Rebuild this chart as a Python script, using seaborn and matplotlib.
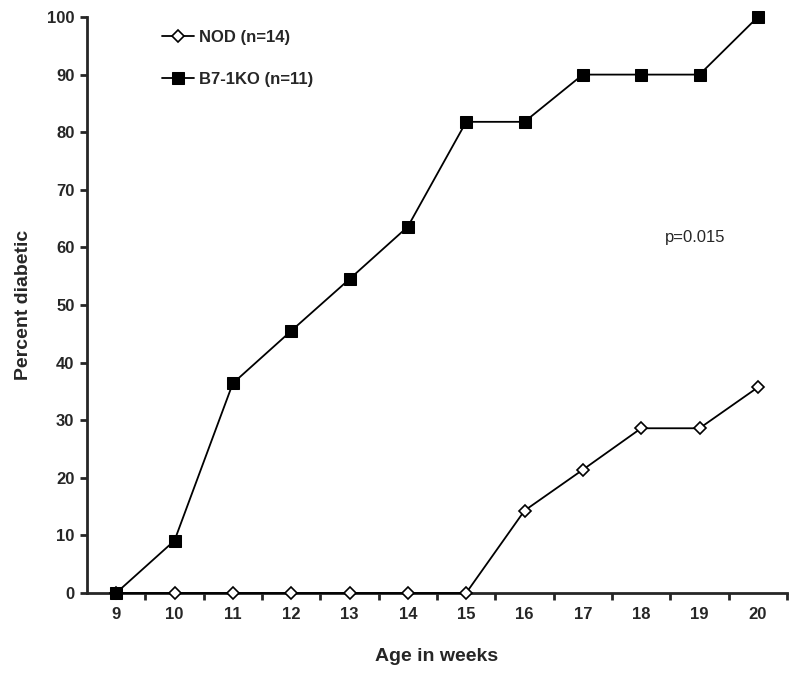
import matplotlib
matplotlib.use("Agg")
import matplotlib.pyplot as plt
import seaborn as sns
import pandas as pd
from matplotlib.ticker import FixedLocator

weeks = [9, 10, 11, 12, 13, 14, 15, 16, 17, 18, 19, 20]
nod = [0, 0, 0, 0, 0, 0, 0, 14.3, 21.4, 28.6, 28.6, 35.7]
b71ko = [0, 9.1, 36.4, 45.5, 54.5, 63.6, 81.8, 81.8, 90, 90, 90, 100]
nod_label = "NOD (n=14)"
ko_label = "B7-1KO (n=11)"
y_ticks = [0, 10, 20, 30, 40, 50, 60, 70, 80, 90, 100]

sns.set_style("ticks")
plt.rcParams["font.family"] = ["Liberation Sans", "DejaVu Sans"]

fig = plt.figure(figsize=(8, 6.76), dpi=100)
ax = fig.add_axes([87/800, 1-593/676, 700/800, 576/676])

df_nod = pd.DataFrame({"week": weeks, "pct": nod})
df_ko = pd.DataFrame({"week": weeks, "pct": b71ko})

sns.lineplot(data=df_nod, x="week", y="pct", ax=ax, color="black", lw=1.3,
             marker="D", markersize=6.5, markerfacecolor="white",
             markeredgecolor="black", markeredgewidth=1.2, label=nod_label, zorder=3)
sns.lineplot(data=df_ko, x="week", y="pct", ax=ax, color="black", lw=1.3,
             marker="s", markersize=8.5, markerfacecolor="black",
             markeredgecolor="black", label=ko_label, zorder=4)

ax.set_xlim(8.5, 20.5)
ax.set_ylim(0, 100)
ax.set_yticks(y_ticks)
ax.set_xticks(weeks)
ax.xaxis.set_minor_locator(FixedLocator([w + 0.5 for w in weeks]))
ax.tick_params(axis="x", which="major", length=0, pad=10, labelsize=12)
ax.tick_params(axis="x", which="minor", length=5, width=2, direction="out")
ax.tick_params(axis="y", length=5, width=2, direction="out", pad=4, labelsize=12)
for lab in ax.get_xticklabels() + ax.get_yticklabels():
    lab.set_fontweight("bold")

for s in ["top", "right"]:
    ax.spines[s].set_visible(False)
for s in ["left", "bottom"]:
    ax.spines[s].set_linewidth(2)
for line in ax.lines:
    line.set_clip_on(False)

ax.set_xlabel("Age in weeks", fontsize=14, fontweight="bold", labelpad=19)
ax.set_ylabel("Percent diabetic", fontsize=14, fontweight="bold", labelpad=11)

handles, labels = ax.get_legend_handles_labels()
order = [labels.index(nod_label), labels.index(ko_label)]
leg = ax.legend([handles[i] for i in order], [labels[i] for i in order],
                loc="upper left", bbox_to_anchor=(0.107, 0.978), frameon=False,
                handlelength=1.9, handletextpad=0.3, labelspacing=1.65,
                borderpad=0, borderaxespad=0, prop={"weight": "bold", "size": 12})

ax.text(0.826, 0.618, "p=0.015", transform=ax.transAxes, fontsize=12,
        ha="left", va="center")

fig.savefig("out.png", dpi=100)
